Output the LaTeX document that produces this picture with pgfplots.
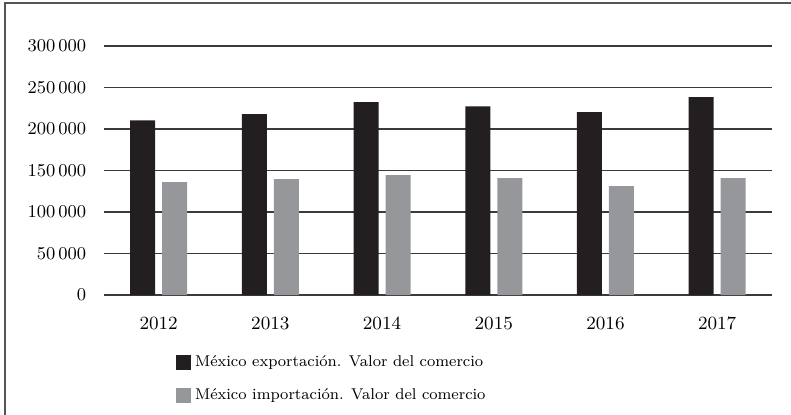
\documentclass[border=0pt]{standalone}
\usepackage{pgfplots}
\pgfplotsset{compat=1.18}
\definecolor{barblack}{HTML}{231F20}
\definecolor{bargray}{HTML}{96979A}
\definecolor{gridc}{HTML}{3A3A3A}
\definecolor{framec}{HTML}{555555}
\begin{document}
\begin{tikzpicture}[x=0.5pt,y=0.5pt]
\useasboundingbox (0,0) rectangle (791,415);
\draw[line width=1pt, color=framec] (5,-5) -- (5,412) -- (800,412);
\begin{axis}[
  at={(93,144.5)}, anchor=south west,
  scale only axis, width=334pt, height=124.5pt,
  ybar, bar width=12.5pt,
  legend image code/.code={\fill[#1] (0pt,-3.75pt) rectangle (7.5pt,3.75pt);},
  xmin=-0.49, xmax=5.49, ymin=0, ymax=300000,
  xtick={0,1,2,3,4,5}, xticklabels={2012,2013,2014,2015,2016,2017},
  ytick={0,50000,100000,150000,200000,250000,300000},
  scaled y ticks=false,
  /pgf/number format/fixed,
  /pgf/number format/1000 sep={\,},
  axis line style={draw=none},
  major tick length=0pt,
  ymajorgrids, grid style={gridc, line width=0.75pt},
  tick label style={font=\fontsize{9.3}{11}\selectfont},
  yticklabel style={anchor=east, xshift=-5.3pt},
  xticklabel style={anchor=north, yshift=-7.3pt},
  legend style={draw=none, fill=none, at={(0.1075,-0.224)}, anchor=north west,
    inner sep=0pt, row sep=5.5pt, font=\fontsize{7.8}{10}\selectfont,
    cells={anchor=west}},
  legend cell align=left,
]
\addplot[fill=barblack, draw=none, bar shift=-8pt] coordinates {(0,210500) (1,218000) (2,232500) (3,227300) (4,220500) (5,238500)};
\addplot[fill=bargray, draw=none, bar shift=8pt] coordinates {(0,136100) (1,139800) (2,144600) (3,141000) (4,131300) (5,141000)};
\legend{México exportación. Valor del comercio, México importación. Valor del comercio}
\end{axis}
\end{tikzpicture}
\end{document}
